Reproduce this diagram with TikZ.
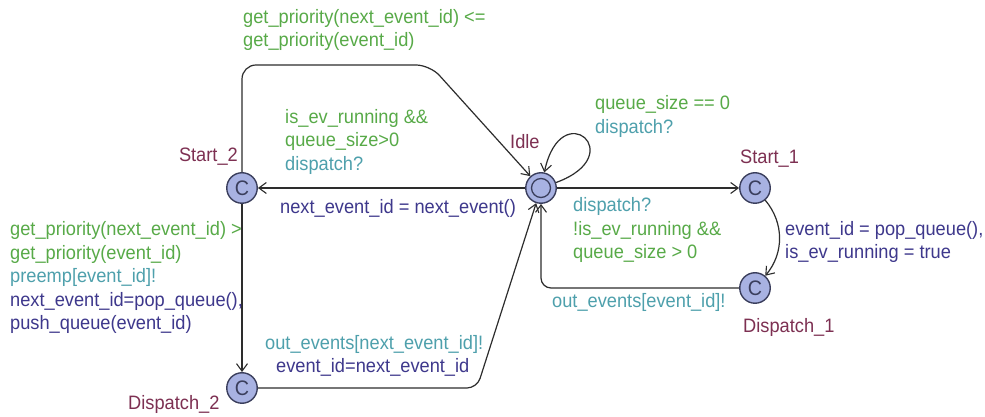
\documentclass[tikz,border=0pt]{standalone}
\usepackage{fontspec}
\setmainfont[FakeStretch=0.94]{Liberation Sans}
\usetikzlibrary{arrows.meta}
\definecolor{guardc}{RGB}{88,170,72}
\definecolor{syncc}{RGB}{78,160,172}
\definecolor{updc}{RGB}{62,56,140}
\definecolor{namec}{RGB}{125,48,82}
\definecolor{locfill}{RGB}{168,178,226}
\definecolor{locdraw}{RGB}{58,62,92}
\definecolor{edgec}{RGB}{45,45,45}
\begin{document}
\begin{tikzpicture}[x=1pt,y=1pt,
  lbl/.style={inner sep=0pt, anchor=base west, font=\fontsize{19.4}{21}\selectfont},
  guard/.style={lbl, text=guardc},
  sync/.style={lbl, text=syncc},
  upd/.style={lbl, text=updc},
  locname/.style={lbl, text=namec},
  location/.style={circle, draw=locdraw, line width=1.4pt, fill=locfill,
    minimum size=30.5pt, inner sep=0pt, text=locdraw,
    font=\fontsize{21}{21}\selectfont},
  edge/.style={draw=edgec, line width=1.2pt,
    -{Straight Barb[length=7.5pt,width=11pt,line width=1.1pt]}}
]
\fill[white] (0,0) rectangle (985,417);
\useasboundingbox (0,0) rectangle (985,417);

% locations
\node[location] (idle) at (541,229) {};
\draw[locdraw, line width=1.3pt] (idle.center) circle (9.5pt);
\node[location] (start2) at (242,229) {C};
\node[location] (start1) at (755,229) {C};
\node[location] (disp1) at (755,129) {C};
\node[location] (disp2) at (242,29) {C};

% location names
\node[locname, anchor=base east] (nStart2) at (238,255) {Start\_2};
\node[locname] (nIdle) at (510,268) {Idle};
\node[locname] (nStart1) at (740,253) {Start\_1};
\node[locname] (nDisp1) at (743,84) {Dispatch\_1};
\node[locname] (nDisp2) at (128,7) {Dispatch\_2};

% bend points of the edges
\coordinate (topBend) at (430,352);
\coordinate (lowBend) at (477,29);

% edges
\draw[edge] (idle) -- (start2);
\draw[edge] (idle) -- (start1);
\draw[edge, rounded corners=14pt] (start2) |- (topBend) -- (idle);
\draw[edge] (start2) -- (disp2);
\draw[edge, rounded corners=10pt] (disp2) -- (lowBend) -- (idle);
\draw[edge, rounded corners=10pt] (disp1) -| (idle);
\draw[edge] (start1) to[bend left=40] (disp1);
\draw[edge] (idle.20) .. controls +(20:80) and +(78:80) .. (idle.78);

% Start_2 -> Idle
\node[guard] (g1a) at (243,393) {get\_priority(next\_event\_id) <=};
\node[guard] (g1b) at (243,370) {get\_priority(event\_id)};

% Idle -> Start_2
\node[guard] (g2a) at (285,293) {is\_ev\_running \&\&};
\node[guard] (g2b) at (285,270) {queue\_size>0};
\node[sync] (s2) at (285,246) {dispatch?};
\node[upd] (u2) at (280,203) {next\_event\_id = next\_event()};

% Idle self loop
\node[guard] (g3) at (595,307) {queue\_size == 0};
\node[sync] (s3) at (595,283) {dispatch?};

% Idle -> Start_1
\node[sync] (s4) at (573,205) {dispatch?};
\node[guard] (g4a) at (573,181) {!is\_ev\_running \&\&};
\node[guard] (g4b) at (573,158) {queue\_size > 0};

% Start_1 -> Dispatch_1
\node[upd] (u5a) at (785,181) {event\_id = pop\_queue(),};
\node[upd] (u5b) at (785,158) {is\_ev\_running = true};

% Dispatch_1 -> Idle
\node[sync] (s6) at (552,109) {out\_events[event\_id]!};

% Start_2 -> Dispatch_2
\node[guard] (g7a) at (10,181) {get\_priority(next\_event\_id) >};
\node[guard] (g7b) at (10,157.5) {get\_priority(event\_id)};
\node[sync] (s7) at (10,134) {preemp[event\_id]!};
\node[upd] (u7a) at (10,110.5) {next\_event\_id=pop\_queue(),};
\node[upd] (u7b) at (10,87) {push\_queue(event\_id)};

% Dispatch_2 -> Idle
\node[sync] (s8) at (265,67) {out\_events[next\_event\_id]!};
\node[upd] (u8) at (276,44) {event\_id=next\_event\_id};
\end{tikzpicture}
\end{document}
